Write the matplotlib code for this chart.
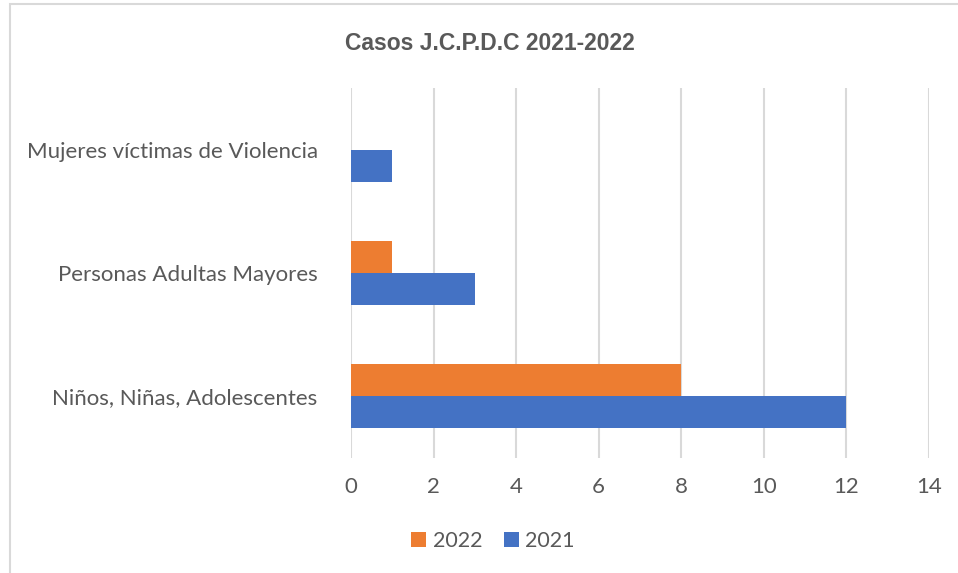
import numpy as np
import matplotlib.pyplot as plt
from matplotlib.patches import Rectangle

# data
categorias = ['Niños, Niñas, Adolescentes', 'Personas Adultas Mayores', 'Mujeres víctimas de Violencia']
casos_2021 = [12, 3, 1]
casos_2022 = [8, 1, 0]
x_ticks = [0, 2, 4, 6, 8, 10, 12, 14]

azul = '#4472C4'
naranja = '#ED7D31'
gris = '#595959'

fig = plt.figure(figsize=(9.58, 5.73), dpi=100)
ax = fig.add_axes([351/958, 1 - 458/573, (929-351)/958, (458-88)/573])

y = np.arange(len(categorias))
h = 0.26
ax.barh(y - h/2, casos_2021, height=h, color=azul, label='2021', zorder=3)
ax.barh(y + h/2, casos_2022, height=h, color=naranja, label='2022', zorder=3)

ax.set_xlim(0, 14)
ax.set_ylim(-0.5, 2.5)
ax.set_xticks(x_ticks)
ax.set_xticklabels([str(t) for t in x_ticks], fontsize=16, color=gris, family='Lato')
ax.set_yticks(y)
ax.set_yticklabels(categorias, fontsize=16, color=gris, family='Lato')
ax.tick_params(length=0)
ax.tick_params(axis='x', pad=14)
ax.tick_params(axis='y', pad=24)
ax.xaxis.grid(True, color='#D9D9D9', linewidth=1.5, zorder=0)
for s in ax.spines.values():
    s.set_visible(False)

fig.text(490/958, 1 - 44/573, 'Casos J.C.P.D.C 2021-2022', ha='center', va='center',
         fontsize=16.5, fontweight='bold', color=gris, family='Liberation Sans')

handles, labels = ax.get_legend_handles_labels()
fig.legend(handles[::-1], labels[::-1], loc='center', bbox_to_anchor=(493/958, 1 - 541/573),
           ncol=2, frameon=False, prop={'family': 'Lato', 'size': 15.5}, labelcolor=gris,
           handlelength=0.7, handleheight=0.7, handletextpad=0.3, columnspacing=1.0)

# chart area border (only top and left visible in the reference)
fig.add_artist(Rectangle((9.5/958, -0.1), 1.2, 1.1 - 4.5/573, transform=fig.transFigure,
                         fill=False, edgecolor='#D9D9D9', linewidth=1.5))

fig.savefig('out.png', dpi=100)
